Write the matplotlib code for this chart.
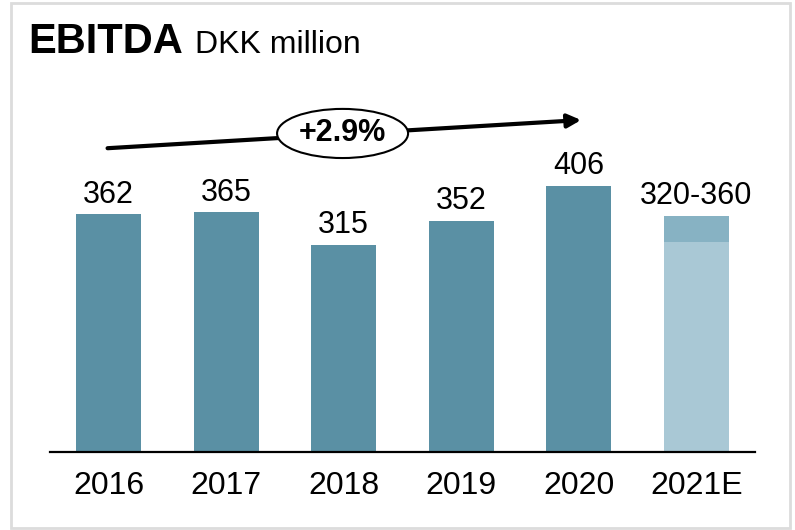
import matplotlib.pyplot as plt
from matplotlib.patches import Ellipse, Rectangle

plt.rcParams['font.family'] = ['Liberation Sans', 'DejaVu Sans']

years = ["2016", "2017", "2018", "2019", "2020", "2021E"]
ebitda = [362, 365, 315, 352, 406]
guidance_low = 320
guidance_high = 360
labels = ["362", "365", "315", "352", "406", "320-360"]
cagr_text = "+2.9%"

bar_color = "#5a90a4"
light_color = "#a9c8d5"
range_color = "#87b2c3"

fig = plt.figure(figsize=(7.95, 5.30), dpi=100)
ax = fig.add_axes([50 / 795, 78.5 / 530, 705 / 795, 351.5 / 530])

x = list(range(len(years)))
ax.bar(x[:5], ebitda, width=0.553, color=bar_color, zorder=2)
ax.bar(x[5], guidance_low, width=0.553, color=light_color, zorder=2)
ax.bar(x[5], guidance_high - guidance_low, bottom=guidance_low, width=0.553,
       color=range_color, zorder=2)

tops = ebitda + [guidance_high]
for xi, top, lab in zip(x, tops, labels):
    ax.annotate(lab, (xi, top), xytext=(0, 8.5), textcoords="offset points",
                ha="center", va="baseline", fontsize=22)

ax.set_xlim(-0.5, 5.5)
ax.set_ylim(0, 536.6)
ax.set_xticks(x)
ax.set_xticklabels(years, fontsize=23)
ax.tick_params(axis="x", length=0, pad=14)
ax.set_yticks([])
for side in ["left", "right", "top"]:
    ax.spines[side].set_visible(False)
ax.spines["bottom"].set_linewidth(1.6)
ax.spines["bottom"].set_zorder(3)

# growth arrow with CAGR bubble
ax.annotate("", xy=(4.02, 506), xytext=(-0.01, 463),
            arrowprops=dict(arrowstyle="-|>", lw=3, color="black",
                            mutation_scale=20, shrinkA=0, shrinkB=0),
            annotation_clip=False)
ax.add_patch(Ellipse((1.99, 485.5), 1.115, 75, facecolor="white",
                     edgecolor="black", lw=1.5, zorder=4, clip_on=False))
ax.text(1.99, 485.5, cagr_text, ha="center", va="center", fontsize=22,
        fontweight="bold", zorder=5)

fig.text(28 / 795, 1 - 53 / 530, "EBITDA", fontsize=30, fontweight="bold",
         va="baseline", ha="left")
fig.text(195 / 795, 1 - 53 / 530, "DKK million", fontsize=23,
         va="baseline", ha="left")

fig.patches.append(Rectangle((11 / 795, 2 / 530), 779 / 795, 525 / 530,
                             transform=fig.transFigure, fill=False,
                             edgecolor="#dcdcdc", lw=2))

fig.savefig("out.png", dpi=100)
